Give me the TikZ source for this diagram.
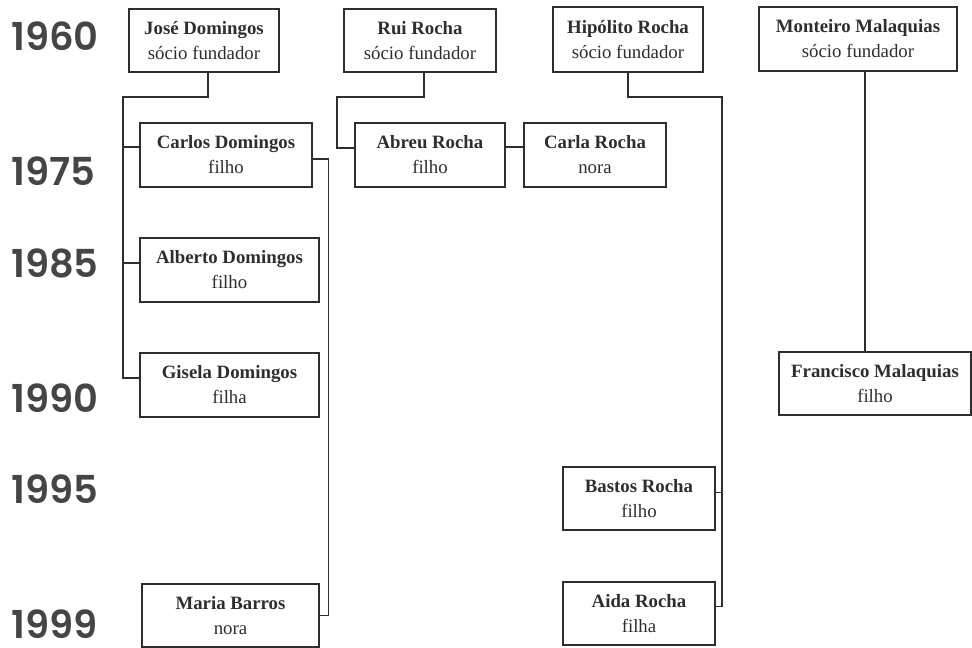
\documentclass[tikz,border=0pt]{standalone}
\usepackage{fontspec}
\setmainfont{Liberation Serif}
\newfontfamily\yearfont{Poppins}[BoldFont={* SemiBold}]
\usetikzlibrary{calc}
\definecolor{ink}{HTML}{2E2E2E}
\definecolor{yearink}{HTML}{454545}
\tikzset{
  person/.style={draw=ink, line width=1.3pt, text=ink, fill=white, inner sep=0pt,
    align=center, minimum height=63pt, font=\fontsize{18.8}{25}\selectfont},
  year/.style={anchor=base west, inner sep=0pt, text=yearink, text depth=0pt,
    font=\yearfont\bfseries\fontsize{38.5}{38.5}\selectfont},
  link/.style={draw=ink, line width=1.2pt}
}
\begin{document}
\begin{tikzpicture}[x=1pt, y=-1pt]
\useasboundingbox (0,0) rectangle (972,648);

% years
\node[year] (y1960) at (11,50) {1960};
\node[year] (y1975) at (11,185) {1975};
\node[year] (y1985) at (11,277) {1985};
\node[year] (y1990) at (11,412) {1990};
\node[year] (y1995) at (11,503) {1995};
\node[year] (y1999) at (11,638) {1999};

% people
\node[person, minimum width=150pt] (jose) at (204,40.5) {\textbf{José Domingos}\\sócio fundador};
\node[person, minimum width=152pt] (rui) at (420,40.5) {\textbf{Rui Rocha}\\sócio fundador};
\node[person, minimum width=150pt, minimum height=65pt] (hipolito) at (628,39.5) {\textbf{Hipólito Rocha}\\sócio fundador};
\node[person, minimum width=198pt, minimum height=64pt] (monteiro) at (858,39) {\textbf{Monteiro Malaquias}\\sócio fundador};

\node[person, minimum width=172pt, minimum height=64pt] (carlos) at (226,155) {\textbf{Carlos Domingos}\\filho};
\node[person, minimum width=150pt, minimum height=64pt] (abreu) at (430,155) {\textbf{Abreu Rocha}\\filho};
\node[person, minimum width=142pt, minimum height=64pt] (carla) at (595,155) {\textbf{Carla Rocha}\\nora};

\node[person, minimum width=179pt, minimum height=64pt] (alberto) at (229.5,270) {\textbf{Alberto Domingos}\\filho};
\node[person, minimum width=179pt, minimum height=64pt] (gisela) at (229.5,385) {\textbf{Gisela Domingos}\\filha};
\node[person, minimum width=177pt] (maria) at (230.5,615.5) {\textbf{Maria Barros}\\nora};

\node[person, minimum width=152pt] (bastos) at (639,498.5) {\textbf{Bastos Rocha}\\filho};
\node[person, minimum width=152pt] (aida) at (639,613.5) {\textbf{Aida Rocha}\\filha};
\node[person, minimum width=192pt] (francisco) at (875,383.5) {\textbf{Francisco Malaquias}\\filho};

% Domingos family
\coordinate (jtop) at (208,97);
\coordinate (jspine) at (123,97);
\draw[link] (jose.south -| jtop) -- (jtop) -- (jspine) |- ([yshift=7pt]gisela.west);
\draw[link] ([yshift=8pt]carlos.west) -- ([yshift=8pt]carlos.west -| jspine);
\draw[link] ([yshift=7pt]alberto.west) -- ([yshift=7pt]alberto.west -| jspine);
\draw[link] ([yshift=-4pt]carlos.east) -- ++(16,0) |- (maria.east);

% Rocha family (Rui)
\coordinate (rtop) at (424,97);
\coordinate (rspine) at (337,97);
\draw[link] (rui.south -| rtop) -- (rtop) -- (rspine) |- ([yshift=7pt]abreu.west);
\draw[link] ([yshift=8pt]abreu.east) -- ([yshift=8pt]carla.west);

% Rocha family (Hipolito)
\coordinate (hspine) at (722,97);
\draw[link] (hipolito.south) |- (hspine) |- ([yshift=7pt]aida.east);
\draw[link] ([yshift=6pt]bastos.east) -- ([yshift=6pt]bastos.east -| hspine);

% Malaquias family
\coordinate (mline) at (865,0);
\draw[link] (monteiro.south -| mline) -- (francisco.north -| mline);
\end{tikzpicture}
\end{document}
